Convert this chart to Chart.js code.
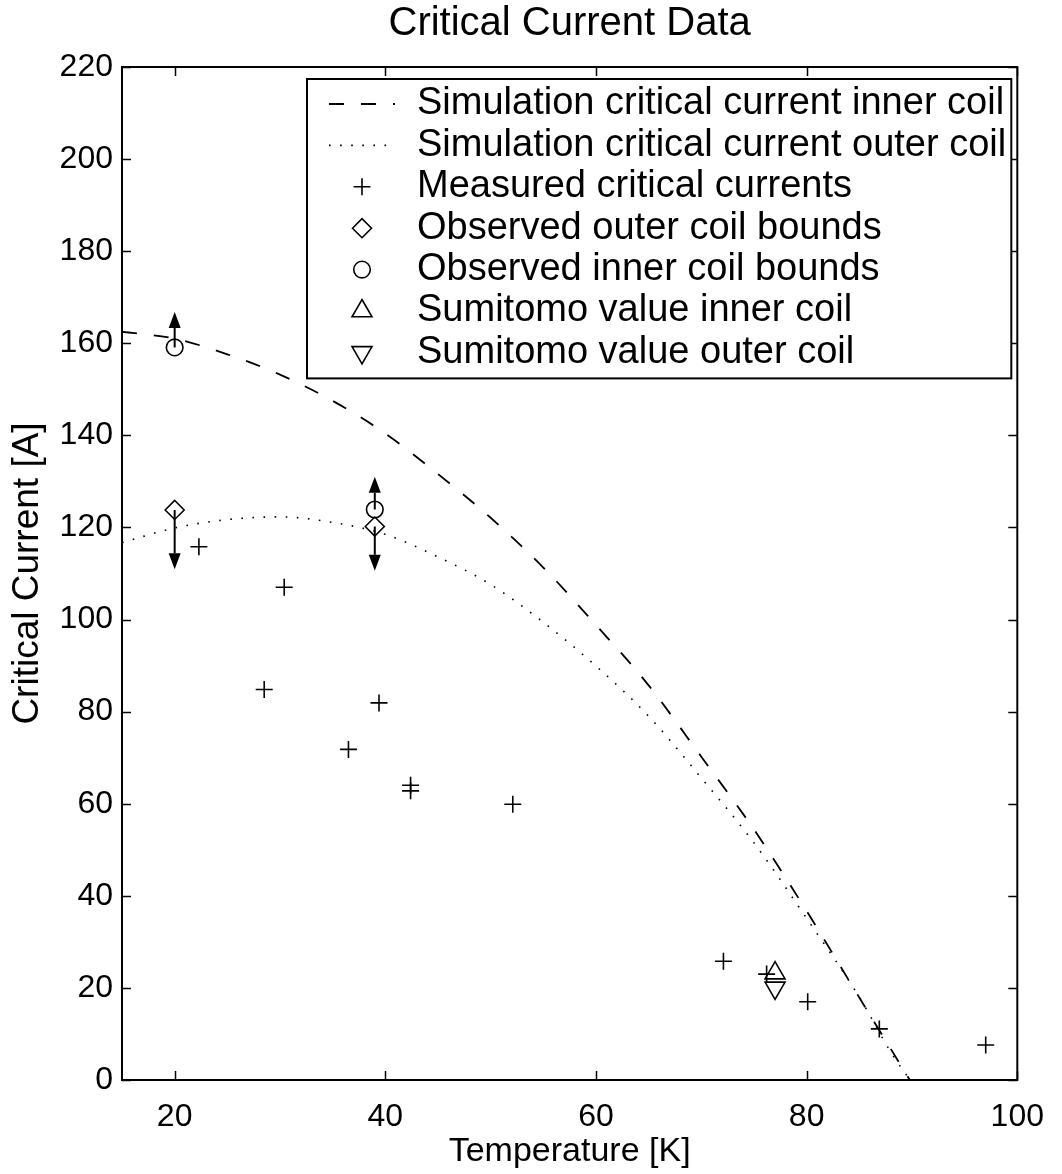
<!DOCTYPE html>
<html>
<head>
<meta charset="utf-8">
<title>Critical Current Data</title>
<script src="https://cdn.jsdelivr.net/npm/chart.js@4.4.0/dist/chart.umd.min.js"></script>
<style>
  html, body { margin: 0; padding: 0; background: #fff; }
  #wrap { width: 1062px; height: 1174px; }
</style>
</head>
<body>
<div id="wrap"><canvas id="icChart" width="1062" height="1174"></canvas></div>
<script>
// Simulated critical current vs temperature [K] -> [A]
var simT     = [15, 20, 25, 30, 35, 40, 45, 50, 55, 60, 65, 70, 75, 80, 85, 88, 89.8];
var simInner = [162.5, 161, 157.6, 153.2, 147.5, 140.4, 131.6, 122.1, 111.3, 98.8, 85.7, 70.2, 54.4, 36.7, 17.9, 6.7, 0];
var simOuter = [116.7, 119.9, 121.7, 122.3, 121.1, 118.5, 113.6, 107.6, 99.4, 89.9, 79.0, 65.6, 51.5, 35.1, 18.0, 6.0, 0];

// Measured critical currents
var measT  = [22.3, 30.4, 28.5, 39.4, 36.5, 42.4, 42.4, 52.1, 72.1, 76.2, 80.1, 86.9, 97.0];
var measIc = [115.8, 107.0, 84.8, 81.9, 71.8, 64.0, 62.8, 59.9, 25.8, 23.0, 17.0, 11.1, 7.6];

// Observed bounds (marker value, and where the arrow points to)
var boundT       = [20, 39];
var outerBoundIc = [123.8, 120.2];
var innerBoundIc = [159.1, 123.9];
var outerArrowTo = [110.9, 110.6];
var innerArrowTo = [166.8, 131.0];

// Manufacturer values at 77 K
var sumitomoT     = [77];
var sumitomoInner = [23.2];
var sumitomoOuter = [20.0];

var xTicks = [20, 40, 60, 80, 100];
var yTicks = [0, 20, 40, 60, 80, 100, 120, 140, 160, 180, 200, 220];

var fontFamily = "'Liberation Sans', Arial, Helvetica, sans-serif";

function pts(xs, ys) {
    return xs.map(function (x, i) { return { x: x, y: ys[i] }; });
}

// arrows showing the direction of each observed bound
var boundArrows = {
    id: 'boundArrows',
    afterDatasetsDraw: function (chart) {
        var ctx = chart.ctx, xs = chart.scales.x, ys = chart.scales.y;
        var from = [], to = [], at = [];
        boundT.forEach(function (t, i) {
            at.push(t, t);
            from.push(innerBoundIc[i], outerBoundIc[i]);
            to.push(innerArrowTo[i], outerArrowTo[i]);
        });
        ctx.save();
        ctx.strokeStyle = '#000';
        ctx.fillStyle = '#000';
        ctx.lineWidth = 2;
        for (var i = 0; i < at.length; i++) {
            var px = xs.getPixelForValue(at[i]);
            var y0 = ys.getPixelForValue(from[i]);
            var y1 = ys.getPixelForValue(to[i]);
            var dir = y1 > y0 ? 1 : -1;
            var head = 16, half = 6;
            ctx.beginPath();
            ctx.moveTo(px, y0);
            ctx.lineTo(px, y1 - dir * head);
            ctx.stroke();
            ctx.beginPath();
            ctx.moveTo(px, y1);
            ctx.lineTo(px - half, y1 - dir * head);
            ctx.lineTo(px + half, y1 - dir * head);
            ctx.closePath();
            ctx.fill();
        }
        ctx.restore();
    }
};

// boxed axes with inward tick marks on all four sides
var axesBox = {
    id: 'axesBox',
    afterDatasetsDraw: function (chart) {
        var ctx = chart.ctx, a = chart.chartArea;
        var xs = chart.scales.x, ys = chart.scales.y;
        var tl = 9;
        ctx.save();
        ctx.strokeStyle = '#000';
        ctx.lineWidth = 1.5;
        ctx.beginPath();
        xTicks.forEach(function (v) {
            var px = Math.round(xs.getPixelForValue(v)) + 0.5;
            ctx.moveTo(px, a.bottom); ctx.lineTo(px, a.bottom - tl);
            ctx.moveTo(px, a.top); ctx.lineTo(px, a.top + tl);
        });
        yTicks.forEach(function (v) {
            var py = Math.round(ys.getPixelForValue(v)) + 0.5;
            ctx.moveTo(a.left, py); ctx.lineTo(a.left + tl, py);
            ctx.moveTo(a.right, py); ctx.lineTo(a.right - tl, py);
        });
        ctx.stroke();
        ctx.lineWidth = 2;
        ctx.strokeRect(a.left, a.top, a.right - a.left, a.bottom - a.top);
        ctx.restore();
    }
};

function drawMarker(ctx, ds, x, y) {
    ctx.save();
    ctx.strokeStyle = '#000';
    ctx.fillStyle = 'rgba(0,0,0,0)';
    ctx.lineWidth = ds.borderWidth;
    Chart.helpers.drawPoint(ctx, {
        pointStyle: ds.pointStyle,
        rotation: ds.pointRotation || 0,
        radius: ds.pointRadius,
        borderWidth: ds.borderWidth
    }, x, y);
    ctx.restore();
}

// legend box in the upper right corner of the axes
var legendBox = {
    id: 'legendBox',
    afterDraw: function (chart) {
        var ctx = chart.ctx, a = chart.chartArea;
        var items = chart.data.datasets.filter(function (d) { return d.label; });
        ctx.save();
        ctx.font = '38px ' + fontFamily;
        var maxW = 0;
        items.forEach(function (d) { maxW = Math.max(maxW, ctx.measureText(d.label).width); });
        var rowH = 41.4;
        var left = a.left + 185, top = a.top + 12;
        var textX = left + 110;
        var right = Math.min(textX + maxW + 10, a.right - 6);
        var bottom = top + 25 + rowH * (items.length - 1) + 26;
        ctx.fillStyle = '#fff';
        ctx.fillRect(left, top, right - left, bottom - top);
        ctx.strokeStyle = '#000';
        ctx.lineWidth = 2;
        ctx.strokeRect(left, top, right - left, bottom - top);

        items.forEach(function (d, i) {
            var cy = top + 25 + rowH * i;
            if (d.showLine) {
                ctx.save();
                ctx.strokeStyle = '#000';
                ctx.lineWidth = d.borderWidth;
                ctx.setLineDash(d.borderDash || []);
                ctx.beginPath();
                ctx.moveTo(left + 22, cy);
                ctx.lineTo(left + 88, cy);
                ctx.stroke();
                ctx.restore();
            } else {
                drawMarker(ctx, d, left + 55, cy);
            }
            ctx.fillStyle = '#000';
            ctx.textBaseline = 'middle';
            ctx.textAlign = 'left';
            ctx.fillText(d.label, textX, cy);
        });
        ctx.restore();
    }
};

function markerSet(label, xs, ys, style, radius, rotation) {
    return {
        label: label,
        data: pts(xs, ys),
        showLine: false,
        pointStyle: style,
        pointRadius: radius,
        pointRotation: rotation || 0,
        pointHoverRadius: radius,
        borderColor: '#000',
        backgroundColor: 'rgba(0,0,0,0)',
        borderWidth: 1.6
    };
}

Chart.defaults.font.family = fontFamily;
Chart.defaults.color = '#000';

new Chart(document.getElementById('icChart'), {
    type: 'scatter',
    data: {
        datasets: [
            {
                label: 'Simulation critical current inner coil',
                data: pts(simT, simInner),
                showLine: true,
                borderColor: '#000',
                borderWidth: 1.8,
                borderDash: [15, 17],
                pointRadius: 0,
                cubicInterpolationMode: 'monotone'
            },
            {
                label: 'Simulation critical current outer coil',
                data: pts(simT, simOuter),
                showLine: true,
                borderColor: '#000',
                borderWidth: 1.6,
                borderDash: [1.6, 9.5],
                pointRadius: 0,
                cubicInterpolationMode: 'monotone'
            },
            markerSet('Measured critical currents', measT, measIc, 'cross', 8.5),
            markerSet('Observed outer coil bounds', boundT, outerBoundIc, 'rectRot', 9.5),
            markerSet('Observed inner coil bounds', boundT, innerBoundIc, 'circle', 8.3),
            markerSet('Sumitomo value inner coil', sumitomoT, sumitomoInner, 'triangle', 11.5),
            markerSet('Sumitomo value outer coil', sumitomoT, sumitomoOuter, 'triangle', 11.5, 180)
        ]
    },
    options: {
        responsive: false,
        animation: false,
        devicePixelRatio: 1,
        layout: { padding: { left: 0, right: 37, top: 0, bottom: 0 } },
        plugins: {
            legend: { display: false },
            tooltip: { enabled: false },
            title: {
                display: true,
                fullSize: false,
                text: 'Critical Current Data',
                font: { size: 40, weight: 'normal' },
                color: '#000',
                padding: { top: 0, bottom: 19 }
            }
        },
        scales: {
            x: {
                type: 'linear',
                min: 15,
                max: 100,
                grid: { display: false, drawTicks: false },
                border: { display: false },
                afterBuildTicks: function (s) { s.ticks = xTicks.map(function (v) { return { value: v }; }); },
                afterFit: function (s) { s.height = 94; },
                ticks: { font: { size: 32 }, color: '#000', padding: 18, maxRotation: 0 },
                title: { display: true, text: 'Temperature [K]', font: { size: 34 }, color: '#000', padding: { top: 0, bottom: 2 } }
            },
            y: {
                type: 'linear',
                min: 0,
                max: 220,
                grid: { display: false, drawTicks: false },
                border: { display: false },
                afterBuildTicks: function (s) { s.ticks = yTicks.map(function (v) { return { value: v }; }); },
                afterFit: function (s) { s.width = 122; },
                ticks: { font: { size: 32 }, color: '#000', padding: 9 },
                title: { display: true, text: 'Critical Current [A]', font: { size: 37 }, color: '#000', padding: { top: 6, bottom: 0 } }
            }
        }
    },
    plugins: [boundArrows, axesBox, legendBox]
});
</script>
</body>
</html>
